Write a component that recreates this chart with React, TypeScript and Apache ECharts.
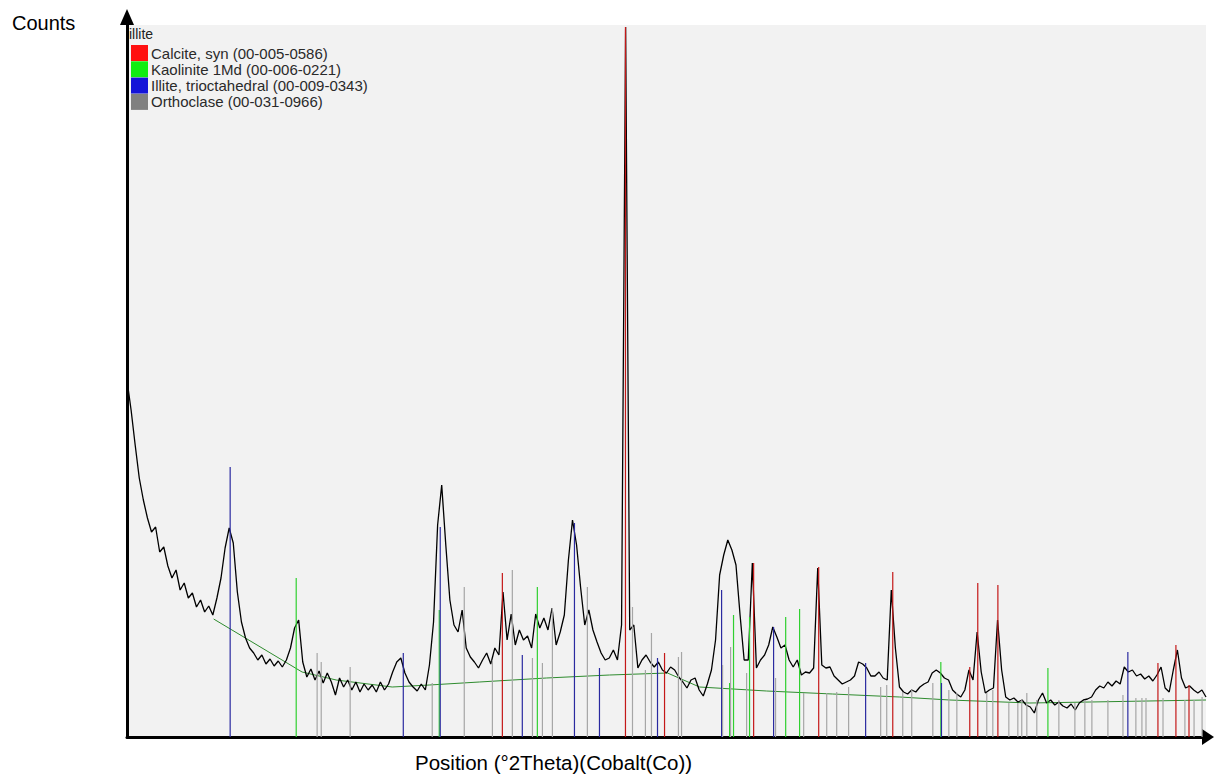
import React, { useEffect, useRef } from "react";
import * as echarts from "echarts";

const SAMPLE_NAME = "illite";
const X_TITLE = "Position (°2Theta)(Cobalt(Co))";
const Y_TITLE = "Counts";
const X_MIN = 4;
const X_MAX = 70;
const Y_MAX = 7120;
const SCAN_START = 4;
const SCAN_STEP = 0.25;

// measured profile (counts), one value per scan step
const counts = [
  3570, 3270, 2920, 2590, 2370, 2190, 2050, 2100, 1850, 1900,
  1710, 1590, 1670, 1470, 1540, 1390, 1440, 1300, 1370, 1250,
  1310, 1220, 1390, 1590, 1890, 2090, 1940, 1450, 1150, 990,
  890, 840, 770, 820, 730, 780, 710, 760, 700, 770,
  890, 1090, 1170, 750, 600, 680, 570, 660, 540, 640,
  550, 420, 590, 500, 570, 470, 550, 450, 530, 470,
  520, 450, 550, 470, 530, 650, 750, 790, 640, 550,
  500, 460, 530, 470, 720, 1150, 2120, 2520, 1920, 1370,
  1120, 1050, 1270, 890, 800, 750, 690, 770, 840, 730,
  890, 820, 1450, 970, 1230, 920, 1070, 970, 1010, 890,
  1230, 1090, 1190, 1070, 1290, 920, 1050, 1220, 1770, 2170,
  1920, 1490, 1120, 1270, 1070, 950, 840, 770, 790, 870,
  770, 1120, 7100, 1070, 1120, 690, 770, 820, 750, 700,
  750, 670, 640, 700, 670, 600, 550, 490, 570, 590,
  470, 410, 530, 670, 970, 1620, 1820, 1970, 1870, 1720,
  1220, 770, 770, 1740, 690, 770, 820, 920, 1100, 1000,
  890, 920, 770, 700, 770, 620, 650, 640, 690, 1690,
  720, 690, 700, 610, 570, 530, 550, 570, 610, 750,
  730, 690, 610, 610, 650, 590, 570, 1470, 890, 500,
  450, 430, 470, 450, 500, 530, 550, 640, 670, 640,
  590, 570, 470, 430, 400, 470, 670, 570, 1050, 650,
  440, 470, 490, 1170, 670, 400, 370, 390, 350, 370,
  320, 300, 240, 370, 440, 340, 370, 320, 350, 310,
  290, 330, 270, 340, 370, 380, 400, 470, 510, 490,
  550, 510, 560, 530, 700, 650, 670, 610, 630, 580,
  610, 560, 620, 700, 490, 450, 670, 870, 590, 490,
  510, 470, 440, 470, 400,
];

// fitted background [2theta, counts]
const background = [
  [9.3, 1180], [14.71, 650], [16.8, 570], [20.22, 500], [22.49, 520],
  [25.55, 550], [29.65, 590], [33.51, 620], [37.06, 640], [39.02, 500], [43.12, 460],
  [47.16, 430], [51.27, 400], [54.33, 370], [59.22, 340], [62.9, 350], [70, 370],
];

const phaseNames = [
  "Calcite, syn (00-005-0586)",
  "Kaolinite 1Md (00-006-0221)",
  "Illite, trioctahedral (00-009-0343)",
  "Orthoclase (00-031-0966)",
];
const phaseColors = ["#ff1010", "#10ee10", "#1414d8", "#808080"];
const stickColors = ["#c41818", "#30d030", "#2a2aa0", "#a6a6a6"];

const calciteSticks = [
  [26.96, 1640], [34.49, 7100], [36.88, 840], [42.33, 1740], [46.31, 1700], [50.84, 1650],
  [55.55, 700], [56.04, 1540], [57.27, 1520], [67.06, 740], [68.16, 920], [68.96, 520],
];
const kaoliniteSticks = [
  [14.35, 1590], [23.1, 1270], [29.1, 1500], [40.86, 540], [41.1, 1220], [42.08, 1200],
  [44.29, 1200], [45.14, 1280], [53.78, 750], [60.33, 690],
];
const illiteSticks = [
  [10.31, 2700], [20.9, 840], [23.16, 2100], [28.18, 820], [31.37, 2140], [32.9, 690],
  [36.45, 790], [40.37, 1470], [43.55, 1100], [49.18, 740], [53.82, 540], [65.22, 850],
];
const orthoclaseSticks = [
  [15.63, 840], [15.88, 750], [17.65, 700], [22.67, 540], [24.63, 1500], [26.35, 770],
  [27.57, 1670], [28.8, 790], [29.41, 740], [30.02, 1290], [32.16, 1500], [34.92, 1300],
  [35.71, 670], [36.08, 1040], [37.73, 800], [37.92, 850], [40.43, 720], [40.92, 900],
  [41.9, 640], [43.67, 590], [45.39, 440], [46.8, 440], [47.41, 450], [48.14, 500],
  [50.1, 500], [50.47, 520], [51.45, 450], [52.0, 470], [53.29, 540], [54.27, 470],
  [54.76, 440], [56.59, 440], [56.96, 470], [57.94, 340], [58.49, 340], [58.73, 370],
  [59.04, 440], [59.65, 370], [61.0, 370], [61.98, 340], [62.59, 370], [63.02, 370],
  [64.0, 370], [64.92, 420], [65.71, 390], [66.08, 390], [66.33, 390], [67.37, 390],
  [68.71, 370], [69.27, 370], [69.76, 400],
];
const phaseSticks = [calciteSticks, kaoliniteSticks, illiteSticks, orthoclaseSticks];

const FONT = 'Arial, "Liberation Sans", sans-serif';

function buildOption() {
  const profile = counts.map((c, i) => [SCAN_START + i * SCAN_STEP, c]);
  const stickSeries = phaseNames.map((name, k) => ({
    name,
    type: "custom",
    z: 4,
    itemStyle: { color: phaseColors[k] },
    encode: { x: 0, y: 1 },
    data: phaseSticks[k],
    renderItem: (_params: any, api: any) => {
      const x = api.value(0);
      const h = api.value(1);
      const p0 = api.coord([x, 0]);
      const p1 = api.coord([x, h]);
      return {
        type: "line",
        shape: { x1: p0[0], y1: p0[1], x2: p1[0], y2: p1[1] },
        style: { stroke: stickColors[k], lineWidth: 1.2 },
      };
    },
  }));

  return {
    animation: false,
    backgroundColor: "#ffffff",
    grid: { left: 127, right: 8, top: 25, bottom: 37, show: true, backgroundColor: "#f2f2f2", borderWidth: 0 },
    xAxis: {
      type: "value",
      min: X_MIN,
      max: X_MAX,
      axisLine: {
        show: true,
        onZero: false,
        lineStyle: { color: "#000", width: 3 },
        symbol: ["none", "triangle"],
        symbolSize: [16, 12],
        symbolOffset: [0, 2],
      },
      axisTick: { show: false },
      axisLabel: { show: false },
      splitLine: { show: false },
    },
    yAxis: {
      type: "value",
      min: 0,
      max: Y_MAX,
      axisLine: {
        show: true,
        onZero: false,
        lineStyle: { color: "#000", width: 3 },
        symbol: ["none", "triangle"],
        symbolSize: [14, 16],
        symbolOffset: [0, 8],
      },
      axisTick: { show: false },
      axisLabel: { show: false },
      splitLine: { show: false },
    },
    legend: {
      data: phaseNames,
      orient: "vertical",
      left: 131,
      top: 45,
      padding: 0,
      itemGap: 0.3,
      itemWidth: 17,
      itemHeight: 16,
      icon: "rect",
      selectedMode: false,
      textStyle: { fontSize: 15, color: "#2a2a2a", fontFamily: FONT, padding: [0, 0, 0, -2] },
    },
    graphic: [
      { type: "text", x: 12, y: 23, style: { text: Y_TITLE, fontSize: 20, fontFamily: FONT, fill: "#000", verticalAlign: "middle" } },
      { type: "text", x: 415, y: 762, style: { text: X_TITLE, fontSize: 20.5, fontFamily: FONT, fill: "#000", verticalAlign: "middle" } },
      { type: "text", x: 129, y: 34, z: 10, style: { text: SAMPLE_NAME, fontSize: 14, fontFamily: FONT, fill: "#222", verticalAlign: "middle" } },
    ],
    series: [
      {
        name: "profile",
        type: "line",
        data: profile,
        showSymbol: false,
        z: 3,
        lineStyle: { color: "#000", width: 1.3 },
      },
      {
        name: "background",
        type: "line",
        data: background,
        showSymbol: false,
        z: 2,
        lineStyle: { color: "#2e8b2e", width: 1 },
      },
      ...stickSeries,
    ],
  };
}

export default function App() {
  const ref = useRef<HTMLDivElement>(null);
  useEffect(() => {
    const chart = echarts.init(ref.current as HTMLDivElement, null, { renderer: "svg" });
    chart.setOption(buildOption() as any);
    return () => chart.dispose();
  }, []);
  return (
    <div
      ref={ref}
      style={{ position: "absolute", left: 0, top: 0, width: 1214, height: 774, background: "#fff" }}
    />
  );
}
